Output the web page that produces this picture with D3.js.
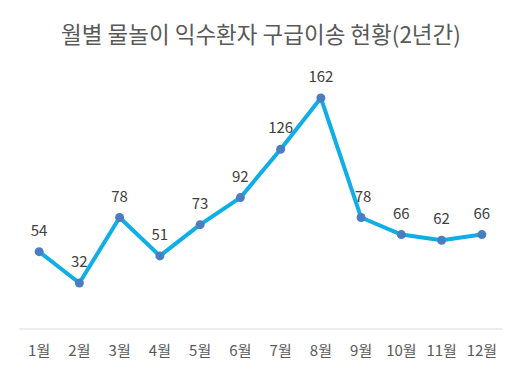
<!DOCTYPE html>
<html><head><meta charset="utf-8">
<script src="https://cdn.jsdelivr.net/npm/d3@7"></script>
<style>body{margin:0;background:#fff}svg{display:block}text{font-family:"Noto Sans CJK KR","Noto Sans",sans-serif}</style>
</head><body><svg id="c" width="520" height="379"></svg>
<script>
const title = "월별 물놀이 익수환자 구급이송 현황(2년간)";
const months = ["1월","2월","3월","4월","5월","6월","7월","8월","9월","10월","11월","12월"];
const values = [54,32,78,51,73,92,126,162,78,66,62,66];

const svg = d3.select("#c");
const x = d3.scaleBand().domain(months).range([19, 502]);
const y = d3.scaleLinear().domain([0, 180]).range([328.5, 72.4]);
const cx = d => x(d) + x.bandwidth()/2;

svg.append("text").attr("x", 261).attr("y", 43).attr("text-anchor","middle")
  .attr("font-size", 22.5).attr("fill", "#595959").text(title);

const ax = svg.append("g").attr("transform","translate(0,328.5)")
  .call(d3.axisBottom(x).tickSize(0).tickPadding(17));
ax.select(".domain").attr("stroke","#d9d9d9").attr("stroke-width",1);
ax.selectAll("text").attr("font-size",15).attr("fill","#595959")
  .style("font-family",'"Noto Sans CJK KR",sans-serif');

const line = d3.line().x((d,i)=>cx(months[i])).y(d=>y(d));
svg.append("path").datum(values).attr("d", line).attr("fill","none")
  .attr("stroke","#0FAEE6").attr("stroke-width",4).attr("stroke-linejoin","round");

svg.selectAll("circle.pt").data(values).join("circle").attr("class","pt")
  .attr("cx",(d,i)=>cx(months[i])).attr("cy",d=>y(d)).attr("r",4.5).attr("fill","#4A7EC0");

svg.selectAll("text.lbl").data(values).join("text").attr("class","lbl")
  .attr("x",(d,i)=>cx(months[i]) + (i===8?2:0)).attr("y",d=>y(d)-16)
  .attr("text-anchor","middle").attr("font-size",15).attr("fill","#404040").text(d=>d);
</script></body></html>
